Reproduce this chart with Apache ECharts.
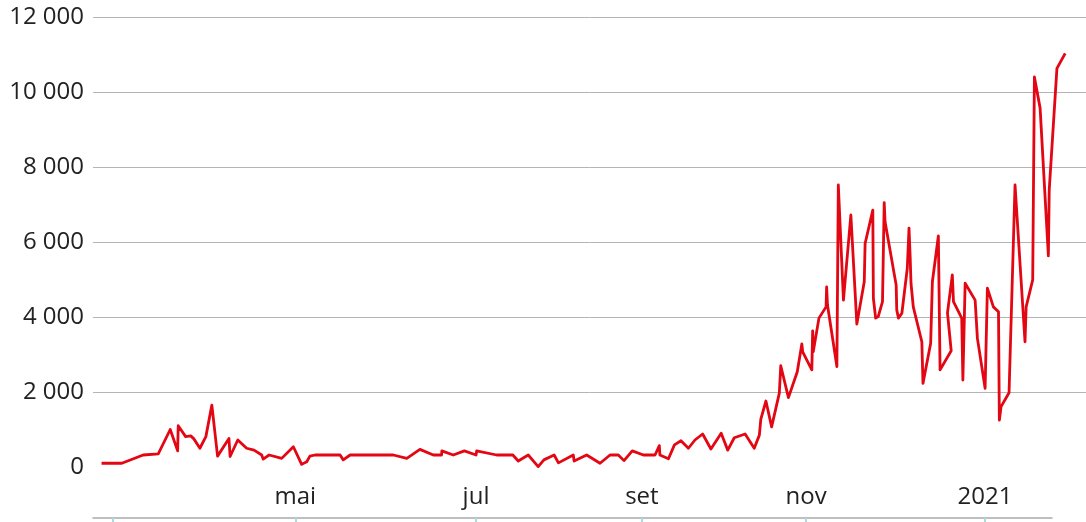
<!DOCTYPE html>
<html>
<head>
<meta charset="utf-8">
<script src="https://cdn.jsdelivr.net/npm/echarts@6/dist/echarts.min.js"></script>
<style>
  html, body { margin: 0; padding: 0; background: #fff; }
  #chart { width: 1086px; height: 522px; }
</style>
</head>
<body>
<div id="chart"></div>
<script>
// dias desde 1 de março de 2020
var days = [
  -4.0, 3.1, 10.6, 15.9, 20.1, 22.7, 22.9, 25.5, 26.2, 27.3, 28.4, 30.5, 32.6, 34.7,
  36.7, 40.7, 41.1, 43.8, 46.9, 49.5, 52.2, 52.7, 54.8, 59.2, 63.3, 66.2, 68.0, 69.1,
  70.9, 79.7, 80.8, 83.2, 98.4, 103.1, 107.7, 112.4, 115.3, 115.4, 119.4, 123.3, 127.4,
  127.6, 134.6, 140.3, 142.2, 145.7, 149.2, 151.2, 154.8, 156.3, 161.5, 161.8, 166.2,
  170.9, 174.4, 177.3, 179.3, 182.2, 186.1, 190.2, 191.7, 191.9, 194.9, 197.0, 199.3,
  201.9, 204.2, 206.9, 209.8, 213.4, 215.7, 218.0, 221.8, 225.0, 226.8, 227.3, 229.1,
  231.1, 233.8, 234.3, 237.0, 240.1, 241.7, 242.0, 245.2, 245.5, 245.7, 247.7, 250.2,
  250.4, 250.7, 254.0, 254.5, 256.3, 258.9, 261.0, 263.6, 263.9, 266.6, 266.8, 267.6,
  268.5, 270.0, 270.6, 270.9, 274.8, 275.0, 275.6, 276.8, 278.7, 279.3, 279.7, 280.3,
  280.0, 280.8, 283.8, 284.2, 286.9, 287.5, 289.6, 290.2, 294.1, 292.8, 294.5, 294.9,
  297.8, 298.2, 299.0, 302.5, 303.3, 306.0, 306.8, 308.9, 310.7, 311.0, 311.6, 314.4,
  316.5, 320.0, 320.4, 322.7, 323.3, 325.3, 328.2, 328.5, 331.2, 334.1
];
var cases = [
  100, 100, 320, 350, 1000, 430, 1100, 810, 850, 830, 750, 500, 810, 1650,
  290, 760, 280, 720, 500, 450, 320, 210, 320, 230, 540, 70, 140, 290,
  320, 320, 190, 320, 320, 230, 470, 320, 320, 430, 320, 430, 320,
  430, 320, 320, 160, 320, 10, 190, 320, 110, 320, 160, 320,
  100, 320, 320, 170, 430, 320, 320, 570, 320, 220, 590, 700,
  500, 720, 880, 480, 900, 450, 780, 880, 500, 850, 1270, 1760,
  1070, 1970, 2700, 1850, 2540, 3280, 3070, 2590, 3630, 3070, 3970, 4270,
  4800, 4320, 2680, 7520, 4450, 6720, 3810, 4940, 5960, 6850, 4500, 3970,
  4010, 4410, 7050, 6540, 4850, 4190, 3970, 4100, 5300, 6370, 5610, 5570,
  4900, 4270, 3340, 2230, 3300, 4940, 6160, 2590, 3100, 4110, 5120, 4410,
  3970, 2320, 4900, 4450, 3430, 2100, 4770, 4270, 4140, 1250, 1610, 1980,
  7520, 3340, 4270, 4990, 10400, 9570, 5630, 7390, 10630, 11030
];
var tickDays = [0, 64, 127.4, 185.6, 243.2, 306];
var tickNames = ['', 'mai', 'jul', 'set', 'nov', '2021'];

var data = days.map(function (d, i) { return [d, cases[i]]; });

var chart = echarts.init(document.getElementById('chart'));
var font = '"Open Sans", "Noto Sans", sans-serif';

chart.setOption({
    animation: false,
    grid: [
        { left: 93, right: 0, top: 17, bottom: 55 },
        { left: 93, right: 34, top: 17, bottom: 55 }
    ],
    xAxis: [
        {
            type: 'value', gridIndex: 0, min: -7, max: 341.4,
            axisLine: { show: false }, axisTick: { show: false },
            axisLabel: { show: false }, splitLine: { show: false }
        },
        {
            type: 'value', gridIndex: 1, min: -7, max: 329.5,
            offset: 51,
            axisLine: { show: true, onZero: false, lineStyle: { color: '#aaaaaa', width: 1.5 } },
            axisTick: {
                show: true, inside: false, length: 4,
                customValues: tickDays,
                lineStyle: { color: '#a6dce2', width: 2 }
            },
            axisLabel: {
                show: true, inside: true, margin: 9,
                customValues: tickDays,
                color: '#222', fontSize: 24, fontFamily: font,
                formatter: function (v) {
                    var i = tickDays.indexOf(v);
                    return i >= 0 ? tickNames[i] : '';
                }
            },
            splitLine: { show: false }
        }
    ],
    yAxis: [
        {
            type: 'value', gridIndex: 0, min: 0, max: 12000, interval: 2000,
            axisLine: { show: false }, axisTick: { show: false },
            axisLabel: {
                color: '#222', fontSize: 24, fontFamily: font, margin: 9,
                formatter: function (v) {
                    return String(v).replace(/\B(?=(\d{3})+(?!\d))/g, ' ');
                }
            },
            splitLine: { show: true, showMinLine: false, lineStyle: { color: '#b4b4b4', width: 1 } }
        },
        {
            type: 'value', gridIndex: 1, min: 0, max: 12000,
            show: false
        }
    ],
    series: [{
        type: 'line',
        xAxisIndex: 0,
        yAxisIndex: 0,
        data: data,
        showSymbol: false,
        symbol: 'none',
        lineStyle: { color: '#e30613', width: 2.8, join: 'round' },
        clip: false
    }]
});
</script>
</body>
</html>
